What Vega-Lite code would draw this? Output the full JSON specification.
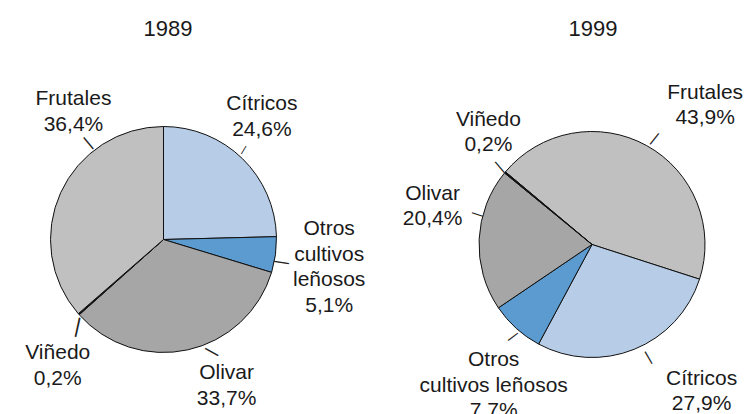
{
  "$schema": "https://vega.github.io/schema/vega-lite/v6.json",
  "autosize": {"type": "pad"},
  "padding": {"top": 17, "left": 0, "right": 0, "bottom": -8},
  "bounds": "flush",
  "spacing": 109,
  "background": "white",
  "config": {
    "view": {"stroke": null},
    "title": {"font": "Liberation Sans", "fontSize": 22, "fontWeight": "normal", "color": "#1a1a1a"},
    "text": {"font": "Liberation Sans", "fontSize": 21, "fill": "#1a1a1a", "align": "center", "baseline": "middle", "lineBreak": "\n", "lineHeight": 25.5}
  },
  "datasets": {
    "d1989": [
      {"cat": "Cítricos", "value": 24.6, "order": 1, "label": "Cítricos\n24,6%"},
      {"cat": "Otros cultivos leñosos", "value": 5.1, "order": 2, "label": "Otros\ncultivos\nleñosos\n5,1%"},
      {"cat": "Olivar", "value": 33.7, "order": 3, "label": "Olivar\n33,7%"},
      {"cat": "Viñedo", "value": 0.2, "order": 4, "label": "Viñedo\n0,2%"},
      {"cat": "Frutales", "value": 36.4, "order": 5, "label": "Frutales\n36,4%"}
    ],
    "d1999": [
      {"cat": "Frutales", "value": 43.9, "order": 1, "label": "Frutales\n43,9%"},
      {"cat": "Cítricos", "value": 27.9, "order": 2, "label": "Cítricos\n27,9%"},
      {"cat": "Otros cultivos leñosos", "value": 7.7, "order": 3, "label": "Otros\ncultivos leñosos\n7,7%"},
      {"cat": "Olivar", "value": 20.4, "order": 4, "label": "Olivar\n20,4%"},
      {"cat": "Viñedo", "value": 0.2, "order": 5, "label": "Viñedo\n0,2%"}
    ]
  },
  "hconcat": [
    {
      "width": 327, "height": 275,
      "title": {"text": "1989", "offset": 13.5, "dx": 4.5},
      "data": {"name": "d1989"},
      "encoding": {
        "theta": {"field": "value", "type": "quantitative", "stack": true, "scale": {"range": [0, 6.2832]}},
        "order": {"field": "order", "type": "quantitative"},
        "detail": {"field": "cat", "type": "nominal"}
      },
      "layer": [
        {"mark": {"type": "arc", "radius": 113, "stroke": "#111111", "strokeWidth": 1},
         "encoding": {"color": {"field": "cat", "type": "nominal", "legend": null,
           "scale": {"domain": ["Frutales", "Cítricos", "Otros cultivos leñosos", "Olivar", "Viñedo"], "range": ["#c0c0c0", "#b7cce6", "#5b9bd0", "#a6a6a6", "#111111"]}}}},
        {"mark": {"type": "text", "radius": 113, "dx": 19.5, "dy": -54.2},
         "encoding": {"text": {"condition": {"test": "datum.cat === 'Cítricos'", "field": "label", "type": "nominal"}, "value": ""}}},
        {"mark": {"type": "text", "radius": 113, "dx": 53.7, "dy": -25.3},
         "encoding": {"text": {"condition": {"test": "datum.cat === 'Otros cultivos leñosos'", "field": "label", "type": "nominal"}, "value": ""}}},
        {"mark": {"type": "text", "radius": 113, "dx": 38.8, "dy": 23.5},
         "encoding": {"text": {"condition": {"test": "datum.cat === 'Olivar'", "field": "label", "type": "nominal"}, "value": ""}}},
        {"mark": {"type": "text", "radius": 113, "dx": -21.0, "dy": 39.2},
         "encoding": {"text": {"condition": {"test": "datum.cat === 'Viñedo'", "field": "label", "type": "nominal"}, "value": ""}}},
        {"mark": {"type": "text", "radius": 113, "dx": 12.8, "dy": -93.3},
         "encoding": {"text": {"condition": {"test": "datum.cat === 'Frutales'", "field": "label", "type": "nominal"}, "value": ""}}},
        {"mark": {"type": "text", "radius": 113, "angle": 30.8, "dx": -3.2, "dy": -8.5, "fontSize": 10, "fill": "#222222"},
         "encoding": {"text": {"condition": {"test": "datum.cat === 'Cítricos'", "value": "|"}, "value": ""}}},
        {"mark": {"type": "text", "radius": 113, "angle": -80.8, "dx": -6.8, "dy": 6.4, "fontSize": 16, "fill": "#222222"},
         "encoding": {"text": {"condition": {"test": "datum.cat === 'Otros cultivos leñosos'", "value": "|"}, "value": ""}}},
        {"mark": {"type": "text", "radius": 113, "angle": -61, "dx": 9.7, "dy": 21, "fontSize": 16, "fill": "#222222"},
         "encoding": {"text": {"condition": {"test": "datum.cat === 'Olivar'", "value": "|"}, "value": ""}}},
        {"mark": {"type": "text", "radius": 113, "angle": 12.4, "dx": 1.7, "dy": 12.5, "fontSize": 21, "fill": "#222222"},
         "encoding": {"text": {"condition": {"test": "datum.cat === 'Viñedo'", "value": "|"}, "value": ""}}},
        {"mark": {"type": "text", "radius": 113, "angle": -39.6, "dx": 52.8, "dy": -21.2, "fontSize": 16, "fill": "#222222"},
         "encoding": {"text": {"condition": {"test": "datum.cat === 'Frutales'", "value": "|"}, "value": ""}}}
      ]
    },
    {
      "width": 312, "height": 285,
      "title": {"text": "1999", "offset": 41, "dx": 1},
      "data": {"name": "d1999"},
      "encoding": {
        "theta": {"field": "value", "type": "quantitative", "stack": true, "scale": {"range": [-0.8727, 5.4105]}},
        "order": {"field": "order", "type": "quantitative"},
        "detail": {"field": "cat", "type": "nominal"}
      },
      "layer": [
        {"mark": {"type": "arc", "radius": 113, "stroke": "#111111", "strokeWidth": 1},
         "encoding": {"color": {"field": "cat", "type": "nominal", "legend": null,
           "scale": {"domain": ["Frutales", "Cítricos", "Otros cultivos leñosos", "Olivar", "Viñedo"], "range": ["#c0c0c0", "#b7cce6", "#5b9bd0", "#a6a6a6", "#111111"]}}}},
        {"mark": {"type": "text", "radius": 113, "dx": 58.5, "dy": -52.9},
         "encoding": {"text": {"condition": {"test": "datum.cat === 'Frutales'", "field": "label", "type": "nominal"}, "value": ""}}},
        {"mark": {"type": "text", "radius": 113, "dx": 67.4, "dy": 29.2},
         "encoding": {"text": {"condition": {"test": "datum.cat === 'Cítricos'", "field": "label", "type": "nominal"}, "value": ""}}},
        {"mark": {"type": "text", "radius": 113, "dx": -22.6, "dy": 32.1},
         "encoding": {"text": {"condition": {"test": "datum.cat === 'Otros cultivos leñosos'", "field": "label", "type": "nominal"}, "value": ""}}},
        {"mark": {"type": "text", "radius": 113, "dx": -46.5, "dy": -45.4},
         "encoding": {"text": {"condition": {"test": "datum.cat === 'Olivar'", "field": "label", "type": "nominal"}, "value": ""}}},
        {"mark": {"type": "text", "radius": 113, "dx": -16.6, "dy": -52.5},
         "encoding": {"text": {"condition": {"test": "datum.cat === 'Viñedo'", "field": "label", "type": "nominal"}, "value": ""}}},
        {"mark": {"type": "text", "radius": 113, "angle": 38.2, "dx": 2.0, "dy": -11.2, "fontSize": 15, "fill": "#222222"},
         "encoding": {"text": {"condition": {"test": "datum.cat === 'Frutales'", "value": "|"}, "value": ""}}},
        {"mark": {"type": "text", "radius": 113, "angle": -29.9, "dx": 8.2, "dy": 13.1, "fontSize": 15, "fill": "#222222"},
         "encoding": {"text": {"condition": {"test": "datum.cat === 'Cítricos'", "value": "|"}, "value": ""}}},
        {"mark": {"type": "text", "radius": 113, "angle": 53, "dx": 4.7, "dy": 7.1, "fontSize": 13, "fill": "#222222"},
         "encoding": {"text": {"condition": {"test": "datum.cat === 'Otros cultivos leñosos'", "value": "|"}, "value": ""}}},
        {"mark": {"type": "text", "radius": 113, "angle": -72, "dx": 23.0, "dy": -10.2, "fontSize": 12, "fill": "#222222"},
         "encoding": {"text": {"condition": {"test": "datum.cat === 'Olivar'", "value": "|"}, "value": ""}}},
        {"mark": {"type": "text", "radius": 113, "angle": -40.5, "dx": -0.8, "dy": -8.4, "fontSize": 15, "fill": "#222222"},
         "encoding": {"text": {"condition": {"test": "datum.cat === 'Viñedo'", "value": "|"}, "value": ""}}}
      ]
    }
  ]
}
